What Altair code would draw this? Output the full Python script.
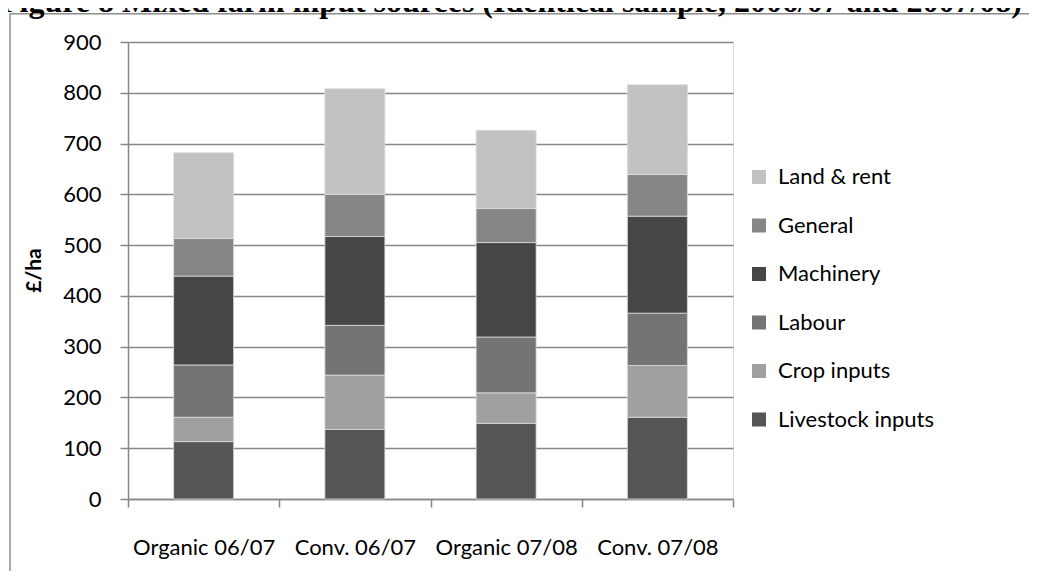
import altair as alt
import pandas as pd

categories = ["Organic 06/07", "Conv. 06/07", "Organic 07/08", "Conv. 07/08"]
series_names = ["Livestock inputs", "Crop inputs", "Labour", "Machinery", "General", "Land & rent"]
livestock = [113, 137, 149, 161]
crop = [48, 107, 60, 102]
labour = [103, 98, 110, 103]
machinery = [175, 175, 186, 191]
general = [74, 83, 67, 82]
land = [169, 208, 154, 177]
series_colors = ["#555555", "#a0a0a0", "#747474", "#464646", "#868686", "#c2c2c2"]
y_ticks = [0, 100, 200, 300, 400, 500, 600, 700, 800, 900]
title_text = "Figure 8 Mixed farm input sources (Identical sample, 2006/07 and 2007/08)"

values = [livestock, crop, labour, machinery, general, land]
rows = []
for si, (name, vals) in enumerate(zip(series_names, values)):
    for ci, cat in enumerate(categories):
        rows.append({"cat": cat, "series": name, "value": vals[ci], "idx": si})
df = pd.DataFrame(rows)

legend_order = list(reversed(series_names))
legend_colors = list(reversed(series_colors))

FONT = "Lato"
GRID = "#878787"

bars = alt.Chart(df).mark_bar(size=60, stroke="#dcdcdc", strokeWidth=0.8).encode(
    x=alt.X("cat:N", sort=categories, title=None,
            scale=alt.Scale(paddingInner=0, paddingOuter=0),
            axis=alt.Axis(labelAngle=0, tickBand="extent", domainColor=GRID, domainWidth=1.5,
                          tickColor=GRID, tickWidth=1.5, tickSize=8, labelFont=FONT,
                          labelFontSize=22, labelColor="#000000", labelPadding=30, grid=False)),
    y=alt.Y("value:Q", stack="zero", title="£/ha",
            scale=alt.Scale(domain=[0, 900], nice=False),
            axis=alt.Axis(values=y_ticks, gridColor=GRID, gridWidth=1.5, domainColor=GRID,
                          domainWidth=1.5, tickColor=GRID, tickWidth=1.5, tickSize=8,
                          labelFont=FONT, labelFontSize=22, labelColor="#000000", labelPadding=19,
                          titleFont=FONT, titleFontSize=21, titleFontWeight="bold",
                          titleColor="#000000", titleX=-94, titleY=228, titleBaseline="middle")),
    color=alt.Color("series:N", scale=alt.Scale(domain=legend_order, range=legend_colors),
                    legend=alt.Legend(title=None, orient="none", legendX=620, legendY=124,
                                      symbolType="square", symbolSize=196, symbolStrokeWidth=0,
                                      labelFont=FONT, labelFontSize=22, labelColor="#000000",
                                      labelOffset=8, rowPadding=26.5, padding=0,
                                      labelLimit=300)),
    order=alt.Order("idx:Q", sort="ascending"),
)

one = pd.DataFrame({"a": [0]})
border_top = alt.Chart(one).mark_rule(color="#8c8c8c", strokeWidth=1.5).encode(
    x=alt.value(-118), x2=alt.value(1000), y=alt.value(-28.2))
border_left = alt.Chart(one).mark_rule(color="#8c8c8c", strokeWidth=1.5).encode(
    x=alt.value(-118), y=alt.value(-28.2), y2=alt.value(600))
title = alt.Chart(one).mark_text(font="Liberation Serif", fontSize=32, fontWeight="bold",
                                 align="left", baseline="alphabetic", color="#000000").encode(
    x=alt.value(-128), y=alt.value(-29.7), text=alt.value(title_text))

chart = alt.layer(bars, border_top, border_left, title).properties(
    width=605, height=457,
    padding={"left": 120, "top": 34, "right": 296, "bottom": 72},
    autosize=alt.AutoSizeParams(type="none"),
).configure_view(stroke=None).configure(background="white")

chart.save("out.html", embed_options={"renderer": "svg", "actions": False})
